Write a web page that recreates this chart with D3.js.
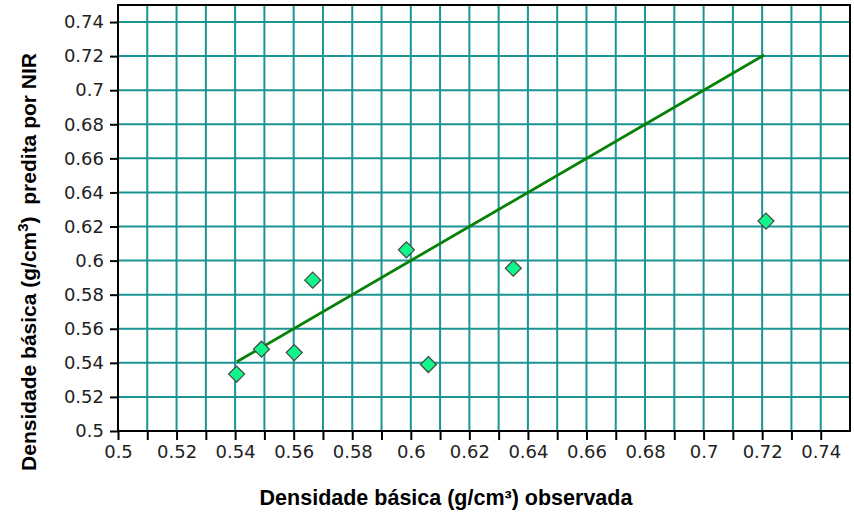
<!DOCTYPE html>
<html>
<head>
<meta charset="utf-8">
<script src="https://cdn.jsdelivr.net/npm/d3@7"></script>
<style>
  body { margin: 0; background: #fff; }
  svg { display: block; }
</style>
</head>
<body>
<div id="chart"></div>
<script>
// ---------------- DATA ----------------
const observed  = [0.5405, 0.549, 0.5602, 0.5665, 0.5985, 0.606, 0.635, 0.7213];
const predicted = [0.5334, 0.548, 0.546, 0.5885, 0.6063, 0.539, 0.5955, 0.6232];
const fitLine   = [[0.5406, 0.5406], [0.7207, 0.7207]];
const xTicks = d3.range(0, 13).map(i => +(0.5 + i * 0.02).toFixed(2));
const xMinor = d3.range(0, 26).map(i => +(0.5 + i * 0.01).toFixed(2));
const yTicks = d3.range(0, 13).map(i => +(0.5 + i * 0.02).toFixed(2));

const width = 854, height = 514;
const margin = {top: 5, right: 4, bottom: 83, left: 118};

const svg = d3.select("#chart").append("svg")
  .attr("width", width)
  .attr("height", height);

const x = d3.scaleLinear().domain([0.5, 0.75]).range([margin.left, width - margin.right]);
const y = d3.scaleLinear().domain([0.5, 0.75]).range([height - margin.bottom, margin.top]);

const gridColor = "#1a9494";

// ---------------- GRID ----------------
svg.append("g").selectAll("line")
  .data(xMinor.filter(v => v > 0.5 && v < 0.75))
  .enter().append("line")
  .attr("x1", d => x(d)).attr("x2", d => x(d))
  .attr("y1", y(0.75)).attr("y2", y(0.5))
  .attr("stroke", gridColor)
  .attr("stroke-width", 2);

svg.append("g").selectAll("line")
  .data(yTicks.filter(v => v > 0.5))
  .enter().append("line")
  .attr("x1", x(0.5)).attr("x2", x(0.75))
  .attr("y1", d => y(d)).attr("y2", d => y(d))
  .attr("stroke", gridColor)
  .attr("stroke-width", 2);

// ---------------- AXES ----------------
const xAxis = svg.append("g")
  .attr("transform", `translate(0,${y(0.5)})`)
  .call(d3.axisBottom(x).tickValues(xMinor.filter(v => v < 0.745)).tickSize(9).tickPadding(5)
    .tickFormat(d => xTicks.includes(d) ? d3.format("")(d) : ""));

const yAxis = svg.append("g")
  .attr("transform", `translate(${x(0.5)},0)`)
  .call(d3.axisLeft(y).tickValues(yTicks).tickSize(8).tickPadding(6)
    .tickFormat(d3.format("")));

[xAxis, yAxis].forEach(a => {
  a.select(".domain").remove();
  a.selectAll("line").attr("stroke", "#000").attr("stroke-width", 2);
  a.selectAll("text")
    .style("font-family", "'DejaVu Sans', sans-serif")
    .style("font-size", "18px")
    .attr("fill", "#222");
});

// frame
svg.append("rect")
  .attr("x", x(0.5)).attr("y", y(0.75))
  .attr("width", x(0.75) - x(0.5))
  .attr("height", y(0.5) - y(0.75))
  .attr("fill", "none")
  .attr("stroke", "#000")
  .attr("stroke-width", 2);

// ---------------- 1:1 LINE ----------------
svg.append("path")
  .attr("d", d3.line().x(d => x(d[0])).y(d => y(d[1]))(fitLine))
  .attr("fill", "none")
  .attr("stroke", "#078207")
  .attr("stroke-width", 2.8);

// ---------------- POINTS ----------------
const points = observed.map((o, i) => ({x: o, y: predicted[i]}));
svg.append("g").selectAll("path")
  .data(points)
  .enter().append("path")
  .attr("transform", d => `translate(${x(d.x)},${y(d.y)})`)
  .attr("d", "M0,-8L8,0L0,8L-8,0Z")
  .attr("fill", "#12f58a")
  .attr("stroke", "#444")
  .attr("stroke-width", 1.2);

// ---------------- TITLES ----------------
svg.append("text")
  .attr("x", 446)
  .attr("y", 505)
  .attr("text-anchor", "middle")
  .style("font-family", "Liberation Sans, Arial, sans-serif")
  .style("font-size", "21.5px")
  .style("font-weight", "bold")
  .text("Densidade básica (g/cm³) observada");

const yt = svg.append("text")
  .attr("transform", "translate(36,262) rotate(-90)")
  .attr("text-anchor", "middle")
  .style("font-family", "Liberation Sans, Arial, sans-serif")
  .style("font-size", "21px")
  .style("font-weight", "bold")
  .style("white-space", "pre");
yt.append("tspan").text("Densidade básica (g/cm");
yt.append("tspan").attr("dy", -8).style("font-size", "15px").text("3");
yt.append("tspan").attr("dy", 8).text(")  predita por NIR");
</script>
</body>
</html>
